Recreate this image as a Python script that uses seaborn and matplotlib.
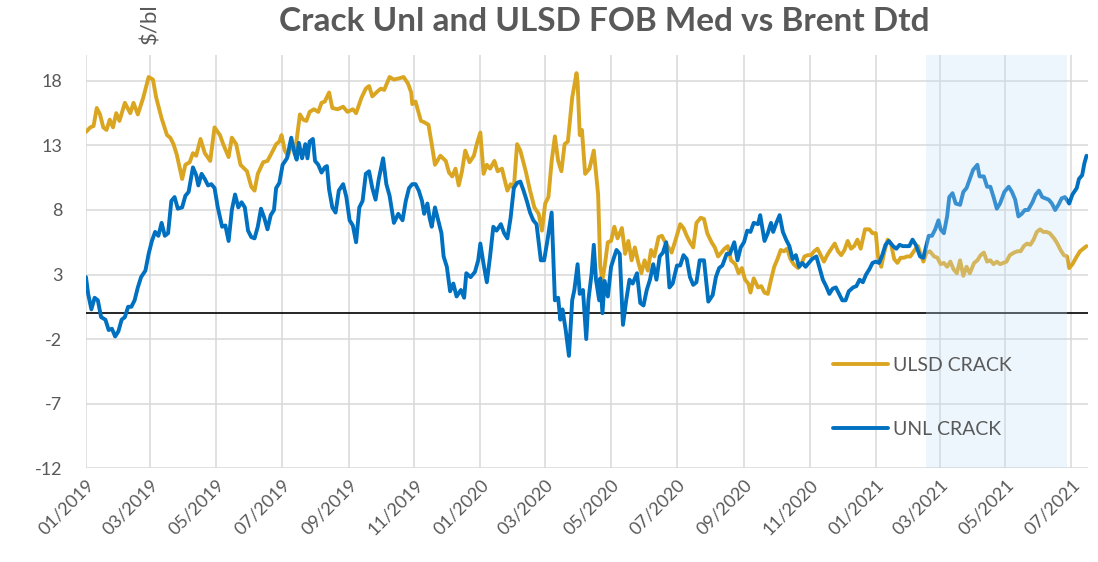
import pandas as pd
import seaborn as sns
import matplotlib.dates as mdates
from matplotlib import pyplot as plt

# day offsets from 01/01/2019 and crack values ($/bl)
ulsd_day = [0, 4, 7, 10, 13, 16, 19, 22, 25, 28, 31, 36, 41, 44, 48, 53, 58, 62, 65, 70,
            75, 78, 81, 84, 89, 92, 96, 99, 102, 106, 110, 115, 119, 124, 127, 132, 135, 139, 143, 149,
            153, 156, 159, 164, 168, 173, 176, 179, 181, 184, 187, 190, 194, 198, 201, 204, 207, 211, 215, 218,
            221, 225, 228, 233, 238, 242, 247, 250, 255, 259, 262, 265, 270, 273, 276, 281, 285, 290, 294, 298,
            301, 302, 305, 310, 313, 317, 320, 323, 328, 333, 336, 339, 342, 345, 348, 351, 355, 359, 362, 365,
            368, 371, 374, 378, 381, 385, 387, 390, 393, 396, 399, 402, 407, 411, 415, 419, 422, 425, 428, 431,
            434, 437, 440, 443, 446, 450, 454, 455, 457, 459, 462, 466, 470, 474, 476, 478, 480, 483, 486, 489,
            492, 496, 499, 502, 505, 508, 511, 514, 517, 520, 523, 526, 530, 533, 536, 539, 542, 545, 550, 553,
            556, 559, 562, 565, 569, 572, 575, 579, 582, 585, 588, 591, 594, 597, 601, 604, 607, 610, 613, 615,
            618, 622, 625, 628, 631, 634, 637, 640, 643, 646, 649, 652, 655, 659, 662, 665, 668, 671, 674, 677,
            680, 683, 686, 689, 693, 696, 699, 702, 705, 708, 711, 714, 717, 721, 725, 728, 731, 733, 736, 739,
            742, 745, 748, 751, 754, 757, 760, 763, 767, 770, 772, 775, 778, 781, 785, 788, 791, 794, 797, 800,
            803, 806, 809, 812, 815, 818, 822, 825, 828, 831, 834, 837, 840, 843, 846, 849, 852, 855, 859, 862,
            865, 868, 871, 874, 877, 880, 883, 886, 889, 892, 896, 899, 902, 905, 908, 910, 913, 917, 920, 923,
            926]
ulsd = [14.05, 14.4, 14.5, 15.9, 15.4, 14.4, 14.2, 15.0, 14.4, 15.5, 14.9, 16.3, 15.5, 16.3, 15.4, 16.7, 18.3, 18.1, 16.7, 15.1,
        13.8, 13.6, 13.1, 12.3, 10.4, 11.5, 11.7, 12.4, 12.2, 13.5, 12.4, 11.8, 14.4, 13.8, 13.1, 12.1, 13.6, 13.1, 11.5, 11.0,
        9.8, 9.5, 10.8, 11.7, 11.8, 12.6, 13.1, 13.3, 13.8, 12.6, 12.2, 13.0, 12.8, 15.4, 15.0, 14.9, 15.6, 15.8, 15.6, 16.3,
        16.4, 17.1, 15.9, 15.8, 16.0, 15.6, 15.8, 15.5, 16.7, 17.4, 17.6, 16.8, 17.2, 17.4, 17.3, 18.3, 18.1, 18.2, 18.3, 17.8,
        17.1, 16.2, 16.4, 14.9, 14.8, 14.6, 13.1, 11.5, 12.2, 11.8, 10.9, 10.6, 11.2, 9.9, 11.0, 12.6, 11.7, 12.2, 13.2, 14.0,
        10.8, 11.5, 11.2, 11.8, 11.0, 11.2, 10.5, 9.5, 10.0, 9.7, 13.1, 12.6, 11.0, 9.5, 8.2, 7.7, 6.4, 8.5, 9.0, 11.8,
        13.7, 11.8, 11.0, 13.1, 13.3, 16.7, 18.6, 17.9, 13.8, 14.2, 10.8, 11.2, 12.6, 9.2, 3.6, 2.6, 3.6, 5.5, 5.6, 6.7,
        5.8, 6.6, 4.6, 5.6, 4.1, 5.1, 4.0, 3.1, 4.1, 3.3, 4.9, 4.4, 5.9, 6.0, 5.5, 5.1, 4.7, 5.5, 6.9, 6.6,
        6.0, 5.5, 5.1, 7.0, 7.4, 7.3, 6.2, 5.5, 5.1, 4.4, 4.7, 5.0, 5.2, 4.1, 3.8, 3.1, 3.5, 2.6, 2.3, 1.6,
        2.7, 2.0, 2.1, 1.6, 1.5, 2.6, 3.6, 4.2, 4.9, 4.8, 5.0, 4.2, 3.8, 3.5, 3.8, 4.4, 4.5, 4.5, 4.8, 5.0,
        4.5, 4.0, 4.5, 4.9, 5.4, 4.8, 4.5, 4.9, 5.6, 5.0, 5.2, 5.7, 5.0, 6.5, 6.5, 6.2, 6.2, 4.4, 3.6, 4.8,
        5.7, 5.4, 4.2, 3.9, 4.3, 4.3, 4.4, 4.4, 4.9, 5.2, 4.7, 4.0, 4.7, 4.8, 4.4, 4.3, 3.8, 3.9, 3.6, 4.0,
        3.4, 3.1, 4.1, 2.9, 3.6, 3.1, 3.9, 4.1, 4.5, 4.7, 4.0, 4.1, 3.8, 4.0, 3.8, 3.9, 4.0, 4.5, 4.7, 4.8,
        4.8, 5.2, 5.4, 5.3, 5.7, 6.3, 6.5, 6.3, 6.3, 6.2, 5.8, 5.4, 4.9, 4.5, 4.4, 3.5, 3.8, 4.4, 4.8, 5.0,
        5.2]

unl_day = [0, 2, 5, 8, 11, 14, 18, 21, 24, 27, 30, 33, 36, 39, 42, 45, 48, 51, 55, 58,
           61, 64, 67, 70, 73, 76, 79, 82, 85, 89, 92, 95, 99, 102, 104, 107, 110, 113, 116, 119,
           122, 126, 129, 132, 135, 138, 141, 144, 147, 150, 153, 156, 159, 162, 165, 168, 171, 174, 176, 179,
           182, 186, 188, 190, 193, 195, 197, 200, 203, 205, 207, 210, 212, 215, 218, 221, 223, 225, 228, 231,
           234, 238, 241, 244, 247, 250, 253, 256, 259, 262, 265, 268, 271, 275, 278, 281, 285, 289, 293, 296,
           299, 302, 305, 308, 311, 313, 316, 318, 320, 323, 326, 329, 331, 334, 337, 340, 343, 347, 350, 352,
           356, 360, 363, 365, 368, 371, 374, 377, 380, 384, 387, 390, 393, 396, 399, 402, 405, 408, 411, 414,
           417, 421, 424, 427, 431, 434, 437, 439, 441, 444, 447, 450, 452, 455, 457, 460, 463, 465, 468, 470,
           472, 475, 476, 478, 480, 483, 486, 489, 491, 494, 497, 500, 503, 506, 510, 513, 516, 519, 522, 525,
           528, 531, 534, 537, 540, 543, 547, 550, 553, 556, 559, 562, 565, 568, 572, 576, 580, 583, 586, 589,
           593, 596, 600, 603, 606, 609, 612, 615, 618, 622, 624, 628, 631, 634, 636, 639, 642, 645, 648, 651,
           654, 657, 660, 663, 666, 669, 672, 676, 679, 682, 685, 688, 691, 694, 697, 700, 703, 706, 710, 713,
           716, 719, 722, 725, 728, 731, 734, 737, 740, 743, 747, 750, 753, 756, 759, 762, 765, 768, 772, 775,
           778, 780, 783, 786, 789, 791, 794, 797, 799, 802, 805, 809, 812, 815, 818, 821, 825, 827, 831, 834,
           837, 840, 843, 846, 850, 854, 857, 860, 863, 866, 869, 872, 876, 879, 882, 885, 888, 891, 894, 897,
           900, 903, 906, 910, 913, 917, 919, 922, 924, 926]
unl = [2.8, 1.5, 0.3, 1.2, 1.0, -0.3, -0.5, -1.3, -1.2, -1.8, -1.4, -0.5, -0.3, 0.5, 0.5, 1.0, 2.0, 2.8, 3.3, 4.6,
       5.6, 6.3, 6.0, 7.0, 6.0, 6.2, 8.7, 9.0, 8.1, 8.2, 9.1, 9.4, 11.3, 10.7, 9.9, 10.8, 10.4, 9.9, 10.0, 9.7,
       8.2, 6.7, 6.8, 5.6, 8.0, 9.2, 8.2, 8.6, 8.2, 6.4, 5.9, 5.8, 6.7, 8.1, 7.4, 6.5, 7.6, 8.0, 9.7, 10.1,
       11.5, 12.0, 12.8, 13.6, 12.4, 11.9, 13.2, 12.0, 13.1, 12.0, 13.3, 13.5, 11.8, 11.5, 10.9, 11.3, 11.4, 9.6, 8.2, 7.8,
       9.5, 10.0, 9.0, 7.2, 6.8, 5.5, 8.2, 8.7, 10.8, 11.0, 9.7, 8.8, 10.4, 12.0, 10.0, 9.1, 7.0, 7.7, 7.2, 8.7,
       9.7, 10.0, 10.0, 9.5, 8.7, 7.7, 8.5, 7.4, 6.7, 8.2, 7.2, 6.2, 4.4, 3.6, 1.7, 2.3, 1.3, 1.8, 1.2, 3.1,
       2.8, 3.2, 4.1, 5.4, 3.8, 2.4, 4.4, 6.7, 6.4, 6.9, 6.2, 5.8, 7.4, 9.7, 10.1, 10.2, 9.5, 8.7, 7.8, 7.2,
       6.9, 4.1, 4.1, 5.6, 7.8, 1.0, 1.2, -0.5, 0.3, -1.3, -3.3, 1.0, 1.8, 3.8, 1.5, 1.8, -2.0, 1.0, 3.1, 5.3,
       2.6, 1.0, 2.7, 0.0, 2.5, 1.3, 3.6, 4.4, 4.9, 4.6, -0.9, 1.0, 2.6, 2.3, 3.1, 0.8, 0.6, 1.8, 2.6, 3.8,
       2.6, 4.4, 4.7, 5.5, 2.0, 2.3, 3.7, 3.7, 4.5, 4.2, 2.8, 2.2, 2.4, 4.1, 4.1, 0.9, 1.4, 2.8, 3.5, 3.7,
       4.6, 4.6, 5.5, 4.1, 5.1, 5.5, 6.4, 6.3, 7.0, 6.9, 7.6, 5.6, 6.2, 7.0, 6.3, 7.0, 7.6, 6.3, 5.7, 5.2,
       4.2, 4.5, 3.6, 3.9, 3.6, 3.9, 4.2, 4.4, 3.5, 2.6, 2.1, 1.5, 1.9, 2.0, 1.5, 1.0, 1.0, 1.7, 2.0, 2.1,
       2.6, 2.4, 3.0, 3.4, 3.9, 4.0, 3.9, 4.5, 5.3, 5.6, 5.2, 5.0, 5.3, 5.2, 5.2, 5.2, 5.7, 5.3, 4.4, 4.3,
       5.3, 6.0, 6.0, 6.5, 7.2, 6.5, 6.2, 7.5, 9.0, 9.3, 8.5, 8.4, 9.4, 9.7, 10.4, 11.1, 11.5, 10.6, 10.6, 9.8,
       9.8, 9.0, 8.1, 8.5, 9.4, 9.8, 9.4, 8.8, 7.5, 7.7, 8.0, 8.0, 8.6, 9.2, 9.5, 9.0, 8.9, 8.8, 8.5, 8.0,
       8.4, 8.9, 9.0, 8.5, 9.2, 9.7, 10.4, 10.7, 11.6, 12.2]

start = pd.Timestamp("2019-01-01")
shade_start = pd.Timestamp("2021-02-16")
shade_end = pd.Timestamp("2021-06-27")

ulsd_df = pd.DataFrame({"date": start + pd.to_timedelta(ulsd_day, unit="D"), "crack": ulsd})
unl_df = pd.DataFrame({"date": start + pd.to_timedelta(unl_day, unit="D"), "crack": unl})

sns.set_theme(style="white")
plt.rcParams["font.family"] = ["Lato", "DejaVu Sans"]
plt.rcParams["axes.unicode_minus"] = False
grey = "#595959"

fig = plt.figure(figsize=(10.98, 5.62), dpi=100)
ax = fig.add_axes([0.0783, 0.167, 0.9127, 0.735])

sns.lineplot(data=ulsd_df, x="date", y="crack", color="#DAA520", lw=2.8, label="ULSD CRACK", ax=ax, zorder=3)
sns.lineplot(data=unl_df, x="date", y="crack", color="#0070C0", lw=2.8, label="UNL CRACK", ax=ax, zorder=3)
ax.axhline(0, color="black", lw=1.2, zorder=2)
ax.axvspan(shade_start, shade_end, color="#C4E0F8", alpha=0.29, lw=0, zorder=4)

ax.set_ylim(-12, 20)
ax.set_yticks([-12, -7, -2, 3, 8, 13, 18])
ax.set_xlim(start, start + pd.Timedelta(days=927.5))
ax.xaxis.set_major_locator(mdates.MonthLocator(bymonth=[1, 3, 5, 7, 9, 11]))
ax.xaxis.set_major_formatter(mdates.DateFormatter("%m/%Y"))
ax.grid(True, color="#D9D9D9", lw=1.1)
ax.set_axisbelow(True)
for s in ax.spines.values():
    s.set_visible(False)
ax.set_xlabel("")
ax.set_ylabel("")
ax.tick_params(axis="both", length=0, colors=grey, labelsize=13)
ax.tick_params(axis="y", pad=17)
ax.tick_params(axis="x", pad=6)
plt.setp(ax.get_xticklabels(), rotation=45, ha="right", rotation_mode="anchor")

leg = ax.legend(loc="upper left", bbox_to_anchor=(0.745, 0.27), frameon=False, fontsize=14,
                handlelength=2.85, handletextpad=0.25, labelspacing=2.45, borderpad=0, borderaxespad=0)
leg.set_zorder(5)
for t in leg.get_texts():
    t.set_color(grey)

fig.text(0.55, 0.962, "Crack Unl and ULSD FOB Med vs Brent Dtd", ha="center", va="center",
         fontsize=24, fontweight="bold", color=grey)
fig.text(0.137, 0.958, "$/bl", rotation=90, ha="center", va="center", fontsize=16, color=grey)

fig.savefig("out.png", dpi=100)
